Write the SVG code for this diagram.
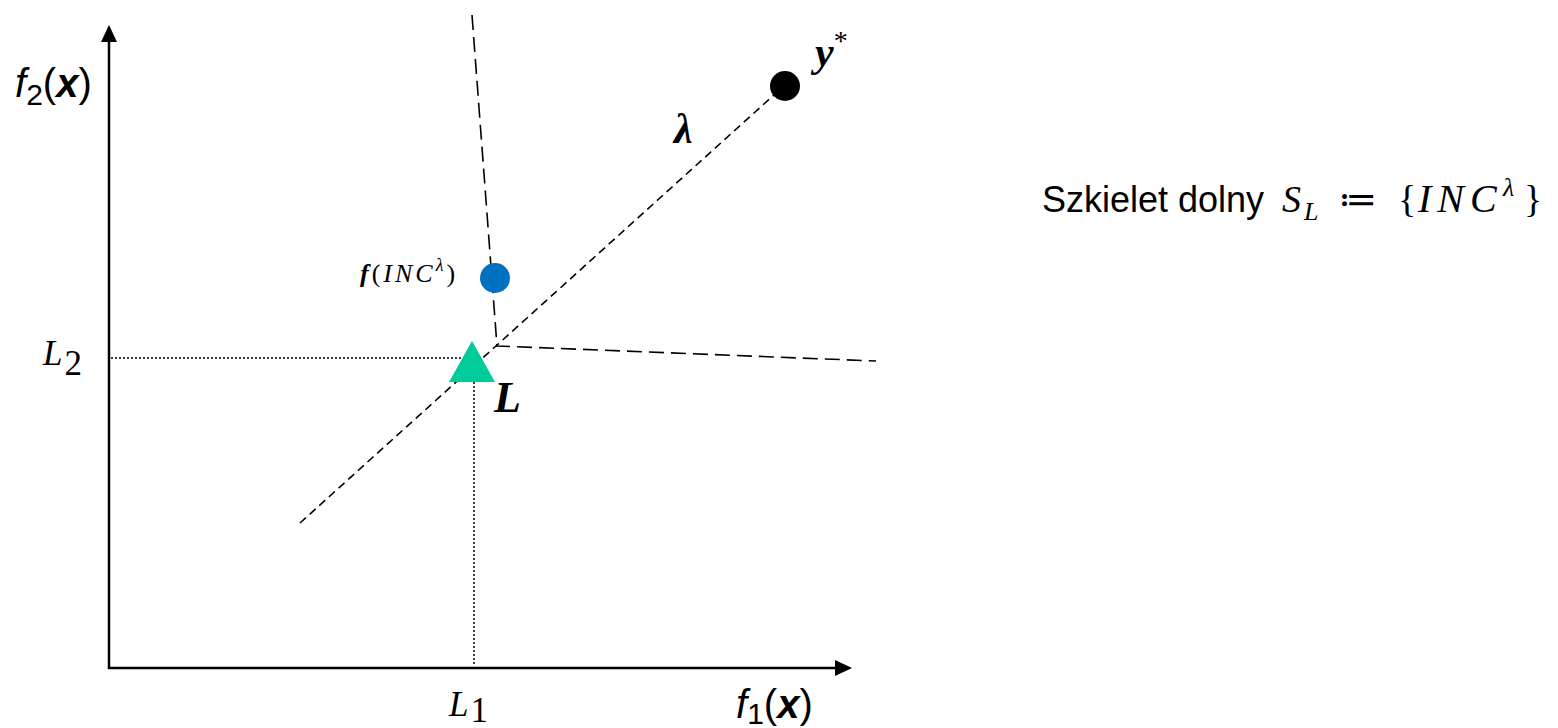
<svg xmlns="http://www.w3.org/2000/svg" width="1558" height="728" viewBox="0 0 1558 728">
<style>
.sans{font-family:"Liberation Sans",Arial,sans-serif;fill:#000}
.math{font-family:"Liberation Serif","DejaVu Serif",serif;font-style:italic;fill:#000}
.up{font-style:normal}
.axis{stroke:#000;stroke-width:2.5;fill:none}
.dot{stroke:#000;stroke-width:1.5;stroke-dasharray:2 2;fill:none}
.dash{stroke:#000;stroke-width:1.6;stroke-dasharray:8 5;fill:none}
.dash2{stroke:#000;stroke-width:1.6;stroke-dasharray:15 7;fill:none}
</style>
<rect width="1558" height="728" fill="#fff"/>
<g id="connectors">
<line class="axis" x1="109" y1="669" x2="109" y2="40"/>
<path d="M101,42 L109,25 L117,42 z" fill="#000"/>
<line class="axis" x1="108" y1="668" x2="836" y2="668"/>
<path d="M835,660 L852,668 L835,676 z" fill="#000"/>
<line class="dot" x1="111" y1="358" x2="470" y2="358"/>
<line class="dot" x1="474" y1="382" x2="474" y2="666"/>
<line class="dash" x1="300" y1="523" x2="785" y2="85"/>
<polyline class="dash2" points="472,15 497,346 876,361"/>
</g>
<g id="axis-labels">
<text class="sans" x="15" y="97" font-size="40"><tspan font-style="italic">f</tspan><tspan font-size="30" dy="8">2</tspan><tspan dy="-8">(</tspan><tspan font-weight="bold" font-style="italic">x</tspan>)</text>
<text class="sans" x="736" y="718" font-size="40"><tspan font-style="italic">f</tspan><tspan font-size="30" dy="6">1</tspan><tspan dy="-6">(</tspan><tspan font-weight="bold" font-style="italic">x</tspan>)</text>
<text class="math" x="449" y="716" font-size="35">L<tspan class="up" dx="2" dy="6">1</tspan></text>
<text class="math" x="43" y="365" font-size="35">L<tspan class="up" dx="2" dy="10">2</tspan></text>
</g>
<g id="node-L">
<polygon points="472,341 449,382 495,382" fill="#00CC99"/>
<text class="math" x="494" y="412" font-size="44" font-weight="bold">L</text>
</g>
<g id="node-INC">
<circle cx="495" cy="278" r="15" fill="#0070C0"/>
<text class="math" x="360" y="282" font-size="26" letter-spacing="3"><tspan font-weight="bold">f</tspan><tspan class="up">(</tspan>INC<tspan font-size="18" dy="-11">λ</tspan><tspan class="up" dy="11">)</tspan></text>
</g>
<g id="node-ystar">
<circle cx="785" cy="86" r="15" fill="#000"/>
<text class="math" x="815" y="66" font-size="42" font-weight="bold">y<tspan font-weight="normal" class="up" font-size="28" dy="-16">*</tspan></text>
</g>
<g id="label-lambda">
<text class="math" x="674" y="143" font-size="42" font-weight="bold">λ</text>
</g>
<g id="caption">
<text class="sans" x="1042" y="212" font-size="36">Szkielet dolny</text>
<text class="math" x="1282" y="212" font-size="38">S</text>
<text class="math" x="1304" y="220" font-size="26">L</text>
<text class="math up" x="1338" y="212" font-size="38">≔</text>
<text class="math up" x="1398" y="212" font-size="38">{</text>
<text class="math" x="1418" y="212" font-size="40" letter-spacing="6">INC</text>
<text class="math" x="1503" y="196" font-size="26">λ</text>
<text class="math up" x="1524" y="212" font-size="38">}</text>
</g>
</svg>
